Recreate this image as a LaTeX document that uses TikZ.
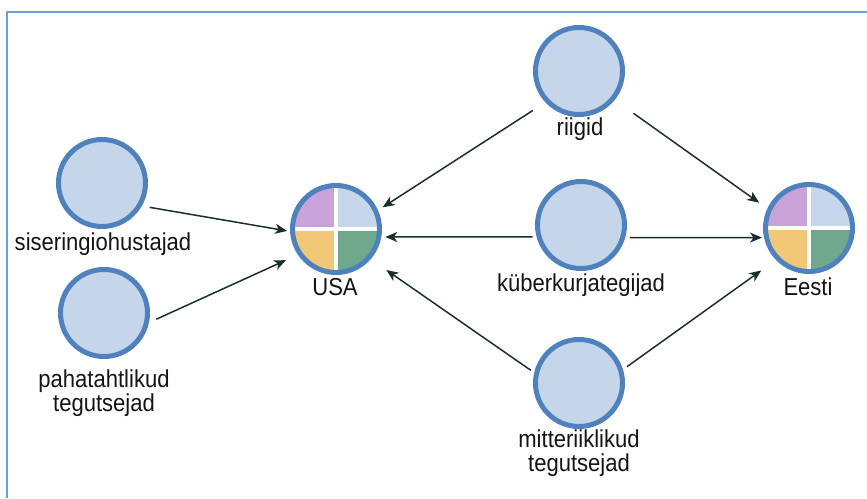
\documentclass[tikz,border=0pt]{standalone}
\usepackage{fontspec}
\setmainfont{Liberation Sans}[FakeStretch=0.9]
\usetikzlibrary{arrows.meta}

\definecolor{frameblue}{HTML}{6A9FD8}
\definecolor{ringblue}{HTML}{4F81BD}
\definecolor{discfill}{HTML}{C5D5EA}
\definecolor{qlilac}{HTML}{C8A2D8}
\definecolor{qsky}{HTML}{C6D7EB}
\definecolor{qamber}{HTML}{F0C878}
\definecolor{qsea}{HTML}{6FA88C}
\definecolor{linkc}{HTML}{1A2E2E}
\definecolor{labelc}{HTML}{141414}

\begin{document}
\begin{tikzpicture}[x=1pt,y=-1pt,
  actor/.style={circle, draw=ringblue, fill=discfill, line width=5pt,
    minimum size=87pt, inner sep=0pt, outer sep=2.5pt},
  country/.style={actor, path picture={
    \fill[qlilac] (path picture bounding box.center) rectangle (path picture bounding box.north west);
    \fill[qsky]   (path picture bounding box.center) rectangle (path picture bounding box.north east);
    \fill[qamber] (path picture bounding box.center) rectangle (path picture bounding box.south west);
    \fill[qsea]   (path picture bounding box.center) rectangle (path picture bounding box.south east);
    \fill[white] ([xshift=-2pt]path picture bounding box.north) rectangle ([xshift=2pt]path picture bounding box.south);
    \fill[white] ([yshift=-2pt]path picture bounding box.west) rectangle ([yshift=2pt]path picture bounding box.east);
  }},
  lbl/.style={font=\fontsize{24.5}{24}\selectfont, text=labelc, inner sep=0pt,
    anchor=base, align=center},
  link/.style={draw=linkc, line width=1.5pt,
    -{Stealth[length=12pt,width=10pt,inset=3.5pt]}}
]
\useasboundingbox (0,0) rectangle (867,498);

% frame along the top and left edges
\draw[frameblue, line width=2.5pt] (7,498) -- (7,12) -- (867,12);

% actors
\node[actor]   (sis) at (102,183) {};
\node[actor]   (pah) at (104,313) {};
\node[country] (usa) at (336,229) {};
\node[actor]   (rii) at (579,71)  {};
\node[actor]   (kub) at (581,225) {};
\node[actor]   (mit) at (579,383) {};
\node[country] (ees) at (809,228) {};

% labels (the base anchor of a two-line label sits on its last line)
\node[lbl] (sisL) at (103,250) {siseringiohustajad};
\node[lbl] (pahL) at (104,411) {pahatahtlikud\\tegutsejad};
\node[lbl] (usaL) at (335,295) {USA};
\node[lbl] (riiL) at (580,135) {riigid};
\node[lbl] (kubL) at (581,291) {küberkurjategijad};
\node[lbl] (mitL) at (579,471) {mitteriiklikud\\tegutsejad};
\node[lbl] (eesL) at (808,295) {Eesti};

% relations
\draw[link, shorten <=8pt,  shorten >=3pt]   (sis.-30)    -- (usa.183.5);
\draw[link, shorten <=8pt,  shorten >=13pt]  (pah.-12)    -- (usa.214);
\draw[link, shorten <=15pt, shorten >=5.5pt] (rii.223.7)  -- (usa.24);
\draw[link, shorten <=4pt,  shorten >=4pt]   (kub.195)    -- (usa.-10.4);
\draw[link, shorten <=4pt,  shorten >=19pt]  (mit.167)    -- (usa.-41);
\draw[link, shorten <=23pt, shorten >=10pt]  (rii.-39.7)  -- (ees.155.7);
\draw[link, shorten <=4.7pt,shorten >=2pt]   (kub.-16)    -- (ees.192);
\draw[link, shorten <=5pt,  shorten >=18pt]  (mit.17)     -- (ees.224);
\end{tikzpicture}
\end{document}
